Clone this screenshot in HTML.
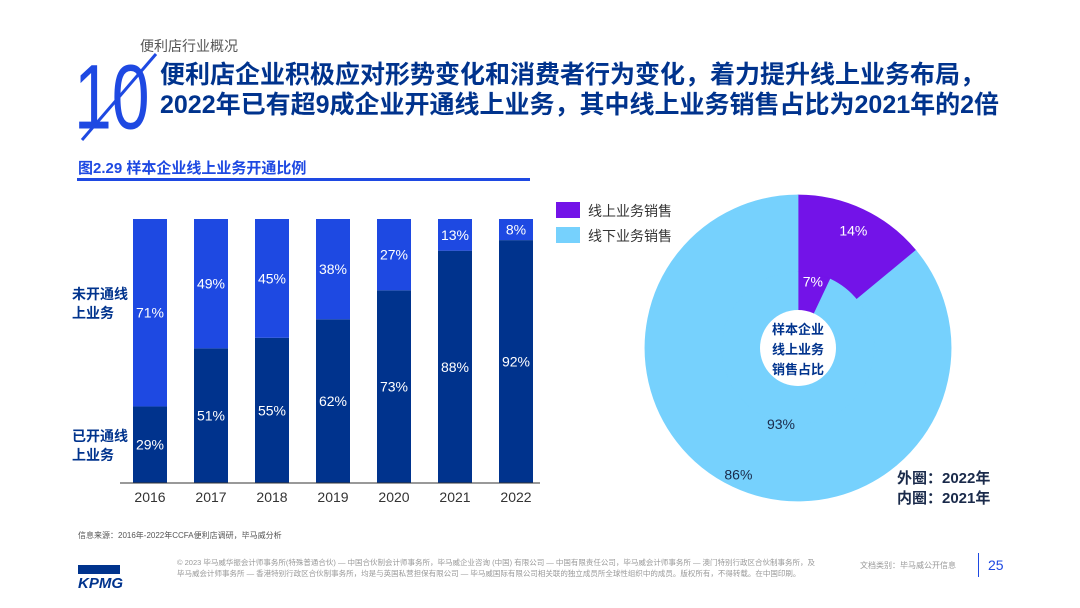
<!DOCTYPE html>
<html><head><meta charset="utf-8">
<style>
body{margin:0;width:1080px;height:608px;background:#fff;overflow:hidden;font-family:"Liberation Sans","Noto Sans CJK SC",sans-serif;position:relative}
.abs{position:absolute}
</style></head><body>
<div class="abs" style="left:140px;top:36px;font-size:14px;color:#555">便利店行业概况</div>
<svg class="abs" style="left:74px;top:48px" width="90" height="95">
<text x="0" y="70" font-size="80" fill="#1E49E2" font-family="Liberation Sans" transform="scale(0.85,1.15)">10</text>
<line x1="8" y1="92" x2="82" y2="6" stroke="#1E49E2" stroke-width="3"/>
</svg>
<div class="abs" style="left:160px;top:60px;font-size:25px;font-weight:bold;color:#00338D;line-height:30px">便利店企业积极应对形势变化和消费者行为变化，着力提升线上业务布局，<br>2022年已有超9成企业开通线上业务，其中线上业务销售占比为2021年的2倍</div>
<div class="abs" style="left:78px;top:157px;font-size:15px;font-weight:bold;color:#1E49E2">图2.29 样本企业线上业务开通比例</div>
<div class="abs" style="left:77px;top:178px;width:453px;height:3px;background:#1E49E2"></div>

<svg class="abs" id="bar" style="left:0;top:0" width="560" height="520"></svg>
<svg class="abs" id="pie" style="left:540px;top:0" width="540" height="520"></svg>

<div class="abs" style="left:78px;top:530px;font-size:8px;color:#555">信息来源：2016年-2022年CCFA便利店调研，毕马威分析</div>
<div class="abs" style="left:78px;top:555px;width:42px;height:24px;color:#00338D;font-weight:bold;font-style:italic;font-size:15px;border-top:10px solid transparent;background:linear-gradient(#00338D,#00338D) 0 0/100% 9px no-repeat;line-height:38px">KPMG</div>
<div class="abs" style="left:177px;top:557px;width:640px;font-size:7.5px;line-height:11px;color:#999">© 2023 毕马威华振会计师事务所(特殊普通合伙) — 中国合伙制会计师事务所，毕马威企业咨询 (中国) 有限公司 — 中国有限责任公司，毕马威会计师事务所 — 澳门特别行政区合伙制事务所，及毕马威会计师事务所 — 香港特别行政区合伙制事务所，均是与英国私营担保有限公司 — 毕马威国际有限公司相关联的独立成员所全球性组织中的成员。版权所有，不得转载。在中国印刷。</div>
<div class="abs" style="left:860px;top:560px;font-size:8px;color:#999">文档类别：毕马威公开信息</div>
<div class="abs" style="left:978px;top:553px;width:1px;height:24px;background:#1E49E2"></div>
<div class="abs" style="left:988px;top:557px;font-size:14px;color:#1E49E2">25</div>

<script>
const years=["2016","2017","2018","2019","2020","2021","2022"];
const opened=[29,51,55,62,73,88,92];
const notOpened=[71,49,45,38,27,13,8];
const innerVals=[7,93];
const outerVals=[14,86];
const pieLabels=["线上业务销售","线下业务销售"];
const NS="http://www.w3.org/2000/svg";
function mk(p,t,a){const e=document.createElementNS(NS,t);for(const k in a)e.setAttribute(k,a[k]);p.appendChild(e);return e;}
const bar=document.getElementById('bar');
const x0=133,step=61,bw=34,yB=483,yT=219;
const y=v=>yB-(yB-yT)*Math.min(v,100)/100;
years.forEach((yr,i)=>{
 const x=x0+i*step;
 const r1=mk(bar,'rect',{x:x,y:y(opened[i]),width:bw,height:yB-y(opened[i]),fill:'#00338D'});
 
 
 const r2=mk(bar,'rect',{x:x,y:y(opened[i]+notOpened[i]),width:bw,height:y(opened[i])-y(opened[i]+notOpened[i]),fill:'#1E49E2'});
 
 
 const t1=mk(bar,'text',{x:x+bw/2,y:(y(opened[i])+yB)/2+5,'text-anchor':'middle','font-size':14,fill:'#fff'});t1.textContent=opened[i]+'%';
 
 
 const t2=mk(bar,'text',{x:x+bw/2,y:(y(opened[i])+y(opened[i]+notOpened[i]))/2+5,'text-anchor':'middle','font-size':14,fill:'#fff'});t2.textContent=notOpened[i]+'%';
 
 
 const t3=mk(bar,'text',{x:x+bw/2,y:502,'text-anchor':'middle','font-size':14,fill:'#333'});t3.textContent=yr;
 
 
});
const ax=mk(bar,'line',{x1:120,y1:yB,x2:540,y2:yB,stroke:'#333','stroke-width':1});


[["未开通线",299],["上业务",318],["已开通线",441],["上业务",460]].forEach((s,i)=>{
 const t=mk(bar,'text',{x:72,y:s[1],'font-size':14,'font-weight':'bold',fill:'#00338D'});t.textContent=s[0];
 
 
});

const pieColors=['#7313E8','#76D1FD'];
const pie=document.getElementById('pie');
const cx=258,cy=348;
function arc(r0,r1,a0,a1){
 const p=(r,a)=>[cx+r*Math.sin(a),cy-r*Math.cos(a)];
 const l=(a1-a0)>Math.PI?1:0;
 const [x1,y1]=p(r1,a0),[x2,y2]=p(r1,a1),[x3,y3]=p(r0,a1),[x4,y4]=p(r0,a0);
 return `M${x1},${y1}A${r1},${r1} 0 ${l} 1 ${x2},${y2}L${x3},${y3}A${r0},${r0} 0 ${l} 0 ${x4},${y4}Z`;
}
function ring(vals,r0,r1,name,lrs){
 let a=0;
 vals.forEach((v,i)=>{const a1=a+v/100*2*Math.PI;
  const e=mk(pie,'path',{d:arc(r0,r1,a,a1),fill:pieColors[i],stroke:pieColors[i],'stroke-width':0.8});
  
  
  const m=(a+a1)/2, lr=lrs[i];
  const t=mk(pie,'text',{x:cx+lr*Math.sin(m),y:cy-lr*Math.cos(m)+5,'text-anchor':'middle','font-size':14,fill:i==0?'#fff':'#1a2a4a'});
  t.textContent=v+'%';
  
  
  a=a1;});
}
ring(outerVals,76,153,'outer-ring',[130,140]);
ring(innerVals,38,76,'inner-ring',[68,78]);
const c=mk(pie,'circle',{cx:cx,cy:cy,r:38,fill:'#fff'});


["样本企业","线上业务","销售占比"].forEach((s,i)=>{const t=mk(pie,'text',{x:cx,y:cy-14+i*20,'text-anchor':'middle','font-size':13,'font-weight':'bold',fill:'#00338D'});t.textContent=s;
 
 });
pieLabels.forEach((s,i)=>{
 const r=mk(pie,'rect',{x:16,y:202+i*25,width:24,height:16,fill:pieColors[i]});
 
 
 const t=mk(pie,'text',{x:48,y:216+i*25,'font-size':14,fill:'#333'});t.textContent=s;
 
 
});
["外圈：2022年","内圈：2021年"].forEach((s,i)=>{const t=mk(pie,'text',{x:357,y:483+i*20,'font-size':15,'font-weight':'bold',fill:'#1a2a4a'});t.textContent=s;
 
 });
</script>
</body></html>
